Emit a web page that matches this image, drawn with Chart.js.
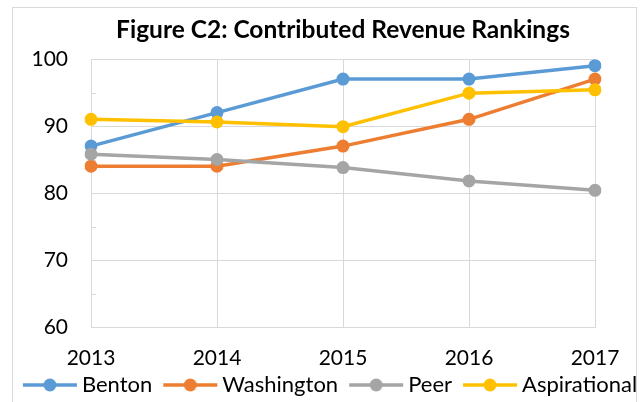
<!DOCTYPE html>
<html>
<head>
<meta charset="utf-8">
<script src="https://cdn.jsdelivr.net/npm/chart.js@4"></script>
<style>
  html, body { margin: 0; padding: 0; background: #fff; }
  #wrap { position: relative; width: 644px; height: 402px; overflow: hidden; }
  #frame { position: absolute; left: 12px; top: 7px; width: 625px; height: 420px; border: 1px solid #d9d9d9; box-sizing: border-box; pointer-events: none; }
  canvas { position: absolute; left: 0; top: 0; }
</style>
</head>
<body>
<div id="wrap">
  <canvas id="c" width="644" height="402"></canvas>
  <div id="frame"></div>
</div>
<script>
const titleText = 'Figure C2: Contributed Revenue Rankings';
const years = ['2013', '2014', '2015', '2016', '2017'];
const seriesNames = ['Benton', 'Washington', 'Peer', 'Aspirational'];
const benton = [87, 92, 97, 97, 99];
const washington = [84, 84, 87, 91, 97];
const peer = [85.8, 85, 83.8, 81.8, 80.4];
const aspirational = [91, 90.6, 89.9, 94.9, 95.4];
const colors = ['#5B9BD5', '#ED7D31', '#A5A5A5', '#FFC000'];
const yMin = 60, yMax = 100, yStep = 10, yMinorStep = 5;

const FONT = 'Lato, "Open Sans", sans-serif';

// legend marker: transparent margin on the left, then a 54px line with a dot
function legendMarker(color) {
  const cv = document.createElement('canvas');
  cv.width = 70; cv.height = 14;
  const g = cv.getContext('2d');
  g.strokeStyle = color; g.lineWidth = 3.5;
  g.beginPath(); g.moveTo(15, 7); g.lineTo(69, 7); g.stroke();
  g.fillStyle = color;
  g.beginPath(); g.arc(42, 7, 6.5, 0, Math.PI * 2); g.fill();
  return cv;
}

const allValues = [benton, washington, peer, aspirational];
const datasets = allValues.map((vals, i) => ({
  label: seriesNames[i],
  data: vals,
  borderColor: colors[i],
  backgroundColor: colors[i],
  pointBackgroundColor: colors[i],
  pointBorderWidth: 0,
  pointRadius: 6.5,
  borderWidth: 3.5,
  tension: 0,
  order: 4 - i,
  yAxisID: 'y'
}));

const minorTicks = {
  id: 'minorTicks',
  beforeDatasetsDraw(chart) {
    const y = chart.scales.y;
    const ctx = chart.ctx;
    ctx.save();
    ctx.strokeStyle = '#d9d9d9';
    ctx.lineWidth = 1;
    for (let v = yMin + yMinorStep; v < yMax; v += yStep) {
      const py = Math.round(y.getPixelForValue(v)) + 0.5;
      ctx.beginPath();
      ctx.moveTo(chart.chartArea.left, py);
      ctx.lineTo(chart.chartArea.left + 5, py);
      ctx.stroke();
    }
    ctx.restore();
  }
};

new Chart(document.getElementById('c'), {
  type: 'line',
  data: { labels: years, datasets },
  plugins: [minorTicks],
  options: {
    responsive: false,
    animation: false,
    devicePixelRatio: 1,
    layout: { padding: { left: -10, right: -18, top: 0, bottom: -4 } },
    plugins: {
      title: {
        display: true,
        text: titleText,
        fullSize: false,
        color: '#000',
        font: { family: FONT, size: 24.5, weight: 'bold' },
        padding: { top: 15.3, bottom: 14.3 }
      },
      legend: {
        position: 'bottom',
        labels: {
          color: '#000',
          font: { family: FONT, size: 22 },
          usePointStyle: true,
          pointStyleWidth: 56,
          boxHeight: 14,
          padding: 3,
          generateLabels(chart) {
            return chart.data.datasets.map((ds, i) => ({
              text: ds.label,
              pointStyle: legendMarker(ds.borderColor),
              fillStyle: ds.borderColor,
              strokeStyle: ds.borderColor,
              lineWidth: 0,
              hidden: false,
              datasetIndex: i
            }));
          }
        }
      },
      tooltip: { enabled: false }
    },
    scales: {
      x: {
        offset: false,
        grid: { color: '#d9d9d9', lineWidth: 1, drawTicks: false },
        border: { color: '#d9d9d9', width: 1 },
        ticks: { color: '#000', font: { family: FONT, size: 21 }, padding: 19, maxRotation: 0 },
        afterFit(s) { s.height = 44; }
      },
      y: {
        min: yMin, max: yMax,
        grid: { color: '#d9d9d9', lineWidth: 1, drawTicks: false },
        border: { color: '#d9d9d9', width: 1 },
        ticks: { stepSize: yStep, color: '#000', font: { family: FONT, size: 21 }, padding: 23 },
        afterFit(s) { s.width = 101; }
      },
      y2: {
        position: 'right',
        display: true,
        grid: { display: false, drawTicks: false },
        border: { display: false },
        ticks: { display: false },
        afterFit(s) { s.width = 67; }
      }
    }
  }
});
</script>
</body>
</html>
